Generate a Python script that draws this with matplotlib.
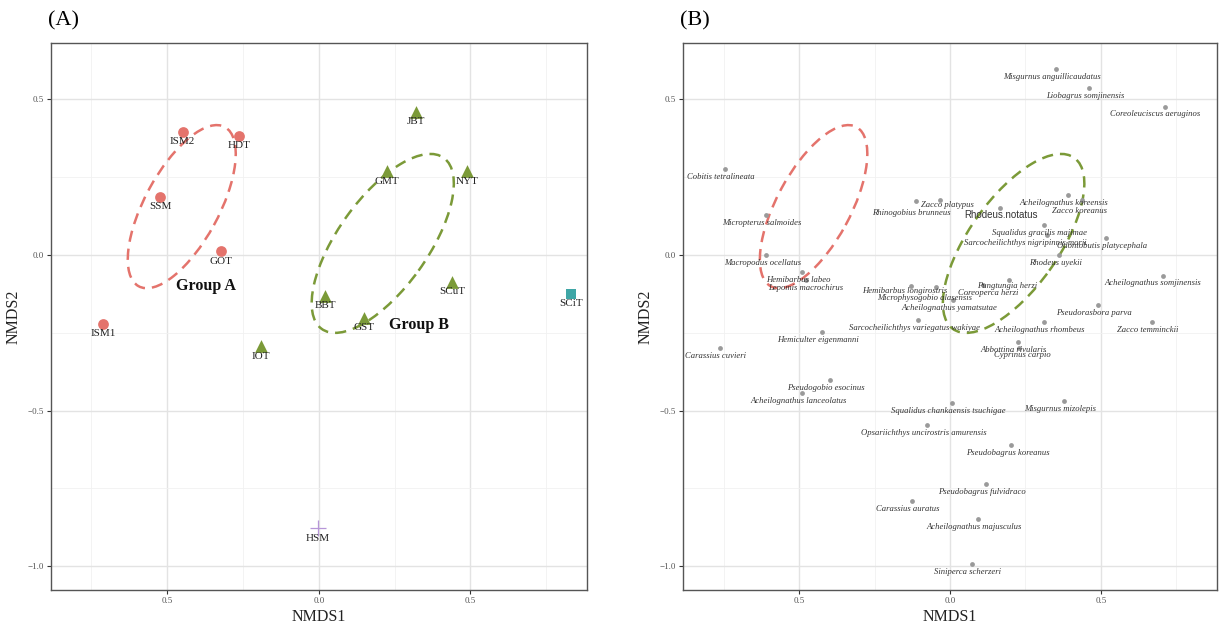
import matplotlib

matplotlib.use("Agg")
import matplotlib.pyplot as plt
from matplotlib.patches import Ellipse
from matplotlib.ticker import FixedLocator, FixedFormatter, MultipleLocator


# ---- site scores (panel A) ----
SITES = ["ISM2", "HDT", "SSM", "GOT", "ISM1",
         "JBT", "GMT", "NYT", "SCuT", "BBT", "GST", "IOT",
         "SCiT", "HSM"]
SITE_X = [-0.449, -0.262, -0.523, -0.322, -0.711,
          0.321, 0.225, 0.488, 0.439, 0.021, 0.148, -0.190,
          0.832, -0.004]
SITE_Y = [0.394, 0.383, 0.186, 0.011, -0.222,
          0.460, 0.268, 0.268, -0.086, -0.131, -0.203, -0.294,
          -0.125, -0.878]
SITE_GROUP = ["a", "a", "a", "a", "a",
              "b", "b", "b", "b", "b", "b", "b",
              "c", "d"]

# ---- species scores (panel B) ----
SPECIES = [
    "Cobitis tetralineata", "Micropterus salmoides", "Rhinogobius brunneus",
    "Zacco platypus", "Macropodus ocellatus", "Hemibarbus labeo",
    "Lepomis macrochirus", "Hemibarbus longirostris",
    "Microphysogobio alasensis", "Coreoperca herzi",
    "Acheilognathus yamatsutae", "Sarcocheilichthys variegatus wakiyae",
    "Hemiculter eigenmanni", "Carassius cuvieri", "Pseudogobio esocinus",
    "Acheilognathus lanceolatus", "Squalidus chankaensis tsuchigae",
    "Opsariichthys uncirostris amurensis", "Misgurnus mizolepis",
    "Pseudobagrus koreanus", "Pseudobagrus fulvidraco", "Carassius auratus",
    "Acheilognathus majusculus", "Siniperca scherzeri",
    "Misgurnus anguillicaudatus", "Liobagrus somjinensis",
    "Coreoleuciscus aeruginos", "Acheilognathus koreensis", "Zacco koreanus",
    "Rhodeus.notatus", "Squalidus gracilis majimae",
    "Sarcocheilichthys nigripinnis morii", "Odontobutis platycephala",
    "Rhodeus uyekii", "Acheilognathus somjinensis", "Pungtungia herzi",
    "Pseudorasbora parva", "Zacco temminckii", "Acheilognathus rhombeus",
    "Abbottina rivularis", "Cyprinus carpio",
]
SP_X = [-0.747, -0.610, -0.111, -0.034, -0.609, -0.489, -0.478, -0.129,
        -0.047, 0.109, 0.010, -0.105, -0.423, -0.763, -0.399, -0.489,
        0.007, -0.075, 0.379, 0.204, 0.119, -0.127, 0.094, 0.072,
        0.353, 0.461, 0.712, 0.390, 0.438, 0.165, 0.311, 0.322, 0.517,
        0.362, 0.706, 0.196, 0.490, 0.670, 0.311, 0.224, 0.230]
SP_Y = [0.277, 0.127, 0.173, 0.175, 0.000, -0.056, -0.080, -0.099,
        -0.102, -0.096, -0.146, -0.209, -0.246, -0.300, -0.402, -0.445,
        -0.475, -0.545, -0.470, -0.612, -0.735, -0.789, -0.848, -0.994,
        0.598, 0.535, 0.476, 0.191, 0.175, 0.152, 0.095, 0.065, 0.055,
        0.000, -0.067, -0.079, -0.161, -0.215, -0.214, -0.280, -0.299]

# label nudges in pixels (dx right, dy down); default below the point
LABEL_NUDGE = {
    "Rhinogobius brunneus": (-5, 12), "Zacco platypus": (8, 5),
    "Hemibarbus longirostris": (-6, 5), "Microphysogobio alasensis": (-11, 11),
    "Coreoperca herzi": (5, 8), "Coreoleuciscus aeruginos": (-10, 7),
    "Zacco koreanus": (-3, 11), "Rhodeus.notatus": (1, 7),
    "Sarcocheilichthys nigripinnis morii": (-22, 8),
    "Acheilognathus somjinensis": (-10, 7), "Cyprinus carpio": (3, 7),
    "Lepomis macrochirus": (0, 8), "Pungtungia herzi": (-2, 6),
}

# ---- group ellipses: centre, width, height, angle (data units) ----
ELLIPSES = {
    "a": ((-0.452, 0.155), 0.585, 0.243, 60.7),
    "b": ((0.211, 0.037), 0.681, 0.294, 53.5),
}
GROUP_TEXT = {"Group A": (-0.372, -0.100), "Group B": (0.330, -0.225)}

COLORS = {"a": "#E4736C", "b": "#7B9A38", "c": "#3FA6A6", "d": "#B796D8"}
MARKERS = {"a": "o", "b": "^", "c": "s", "d": "+"}
SIZES = {"a": 60, "b": 85, "c": 55, "d": 130}

XLIM = (-0.885, 0.885)
YLIM = (-1.076, 0.679)
XTICKS = [-0.5, 0.0, 0.5]
XTICK_LABELS = ["0.5", "0.0", "0.5"]
YTICKS = [-1.0, -0.5, 0.0, 0.5]
YTICK_LABELS = ["\u22121.0", "\u22120.5", "0.0", "0.5"]

SERIF = "Liberation Serif"


def style_axes(ax):
    ax.set_xlim(*XLIM)
    ax.set_ylim(*YLIM)
    ax.xaxis.set_major_locator(FixedLocator(XTICKS))
    ax.xaxis.set_major_formatter(FixedFormatter(XTICK_LABELS))
    ax.yaxis.set_major_locator(FixedLocator(YTICKS))
    ax.yaxis.set_major_formatter(FixedFormatter(YTICK_LABELS))
    ax.xaxis.set_minor_locator(MultipleLocator(0.25))
    ax.yaxis.set_minor_locator(MultipleLocator(0.25))
    ax.grid(which="major", color="#E3E3E3", lw=1.0)
    ax.grid(which="minor", color="#F1F1F1", lw=0.6)
    ax.set_axisbelow(True)
    ax.tick_params(which="major", length=3, width=0.8, color="#333333",
                   labelsize=6.5, labelcolor="#555555", pad=2)
    ax.tick_params(which="minor", length=0)
    for lab in ax.get_xticklabels() + ax.get_yticklabels():
        lab.set_family(SERIF)
    for sp in ax.spines.values():
        sp.set_color("#555555")
        sp.set_linewidth(1.0)
    ax.set_xlabel("NMDS1", family=SERIF, fontsize=11.5, color="#222222",
                  labelpad=3)
    ax.set_ylabel("NMDS2", family=SERIF, fontsize=11.5, color="#222222",
                  labelpad=4)


def draw_ellipses(ax):
    for key, (centre, w, h, ang) in ELLIPSES.items():
        ax.add_patch(Ellipse(centre, w, h, angle=ang, fill=False,
                             ec=COLORS[key], lw=1.8,
                             linestyle=(0, (4.5, 2.8)), zorder=2))


def panel_a(ax):
    style_axes(ax)
    draw_ellipses(ax)
    for key in ["a", "b", "c", "d"]:
        xs = [x for x, g in zip(SITE_X, SITE_GROUP) if g == key]
        ys = [y for y, g in zip(SITE_Y, SITE_GROUP) if g == key]
        lw = 0.9 if key == "d" else 0
        ax.scatter(xs, ys, s=SIZES[key], marker=MARKERS[key],
                   color=COLORS[key], linewidths=lw, zorder=3)
    for name, x, y in zip(SITES, SITE_X, SITE_Y):
        ax.annotate(name, (x, y), xytext=(0, -7), textcoords="offset points",
                    ha="center", va="center", family=SERIF, fontsize=8,
                    color="#222222", zorder=4)
    for text, (x, y) in GROUP_TEXT.items():
        ax.text(x, y, text, family=SERIF, fontsize=11.5, fontweight="bold",
                ha="center", va="center", color="#111111")


def panel_b(ax):
    style_axes(ax)
    draw_ellipses(ax)
    ax.scatter(SP_X, SP_Y, s=12, color="#9A9A9A", linewidths=0, zorder=3)
    for name, x, y in zip(SPECIES, SP_X, SP_Y):
        dx, dy = LABEL_NUDGE.get(name, (-4, 8))
        if name == "Rhodeus.notatus":
            kw = dict(family="Liberation Sans", fontsize=7, style="normal")
        else:
            kw = dict(family=SERIF, fontsize=6.2, style="italic")
        ax.annotate(name, (x, y), xytext=(dx * 0.72, -dy * 0.72),
                    textcoords="offset points", ha="center", va="center",
                    color="#333333", zorder=4, **kw)


def main():
    fig = plt.figure(figsize=(12.2, 6.32), dpi=100)
    fig.patch.set_facecolor("white")
    ax_a = fig.add_axes([0.0414, 0.0665, 0.4398, 0.8647])
    ax_b = fig.add_axes([0.5598, 0.0665, 0.4377, 0.8647])
    panel_a(ax_a)
    panel_b(ax_b)
    fig.text(0.039, 0.967, "(A)", family=SERIF, fontsize=16, va="center")
    fig.text(0.557, 0.967, "(B)", family=SERIF, fontsize=16, va="center")
    fig.savefig("out.png", dpi=100)


if __name__ == "__main__":
    main()
